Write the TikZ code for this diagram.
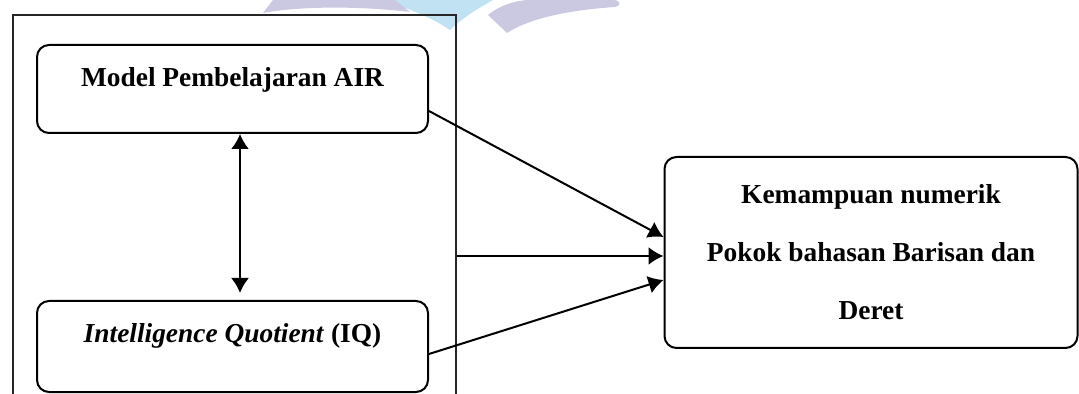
\documentclass[tikz,border=0pt]{standalone}
\usepackage{fontspec}
\setmainfont{Liberation Serif}
\usepackage{tikz}
\usetikzlibrary{arrows.meta}

\definecolor{lavanda}{RGB}{203,200,226}
\definecolor{celeste}{RGB}{192,226,242}

\tikzset{
    caja/.style={draw, rounded corners=6pt, line width=1pt, inner xsep=2pt, inner ysep=4pt,
        font=\fontsize{13.7pt}{29pt}\selectfont\bfseries},
    flecha/.style={line width=1pt, -{Latex[length=7.5pt,width=9pt]}}
}

\begin{document}
\begin{tikzpicture}[x=0.5pt, y=-0.5pt]
    \clip (0,0) rectangle (1079,394);
    \useasboundingbox (0,0) rectangle (1079,394);

    % marca de agua
    \fill[celeste] (380,0) -- (493,0) .. controls (475,10) and (460,20) .. (450,30) .. controls (435,20) and (415,10) .. (380,0);
    \fill[lavanda] (263,13) .. controls (300,6) and (360,6) .. (410,12) -- (395,0) -- (273,0) -- cycle;
    \fill[lavanda] (488,15) .. controls (500,5) and (515,1) .. (527,0) -- (615,0) .. controls (622,2) and (620,6) .. (615,7) .. controls (570,10) and (530,18) .. (507,33) -- cycle;

    \node[draw=black!85, line width=1pt, minimum width=221.5pt, minimum height=220pt, anchor=north west] (marco) at (12,14) {};

    \node[caja, minimum width=195.5pt, text height=17pt, text depth=19pt, anchor=north] (A) at (232.5,44) {Model Pembelajaran AIR};
    \node[caja, minimum width=195.5pt, text height=17pt, text depth=20.5pt, anchor=north] (B) at (232.5,300) {\textit{Intelligence Quotient} (IQ)};
    \node[caja, minimum width=206.5pt, minimum height=95.5pt, align=center] (R) at (871,252.5) {Kemampuan numerik\\Pokok bahasan Barisan dan\\Deret};

    \draw[flecha, {Latex[length=7.5pt,width=9pt]}-{Latex[length=7.5pt,width=9pt]}] ([xshift=3.75pt]A.south) -- ([xshift=3.75pt,yshift=3.5pt]B.north);
    \draw[flecha] ([yshift=-11pt]A.east) -- ([yshift=7.75pt]R.west);  % de A a R
    \draw[flecha] ([yshift=-1.75pt]R.west -| marco.east) -- ([yshift=-1.75pt]R.west);
    \draw[flecha] ([yshift=-3.75pt]B.east) -- ([yshift=-13.75pt]R.west);
\end{tikzpicture}
\end{document}
